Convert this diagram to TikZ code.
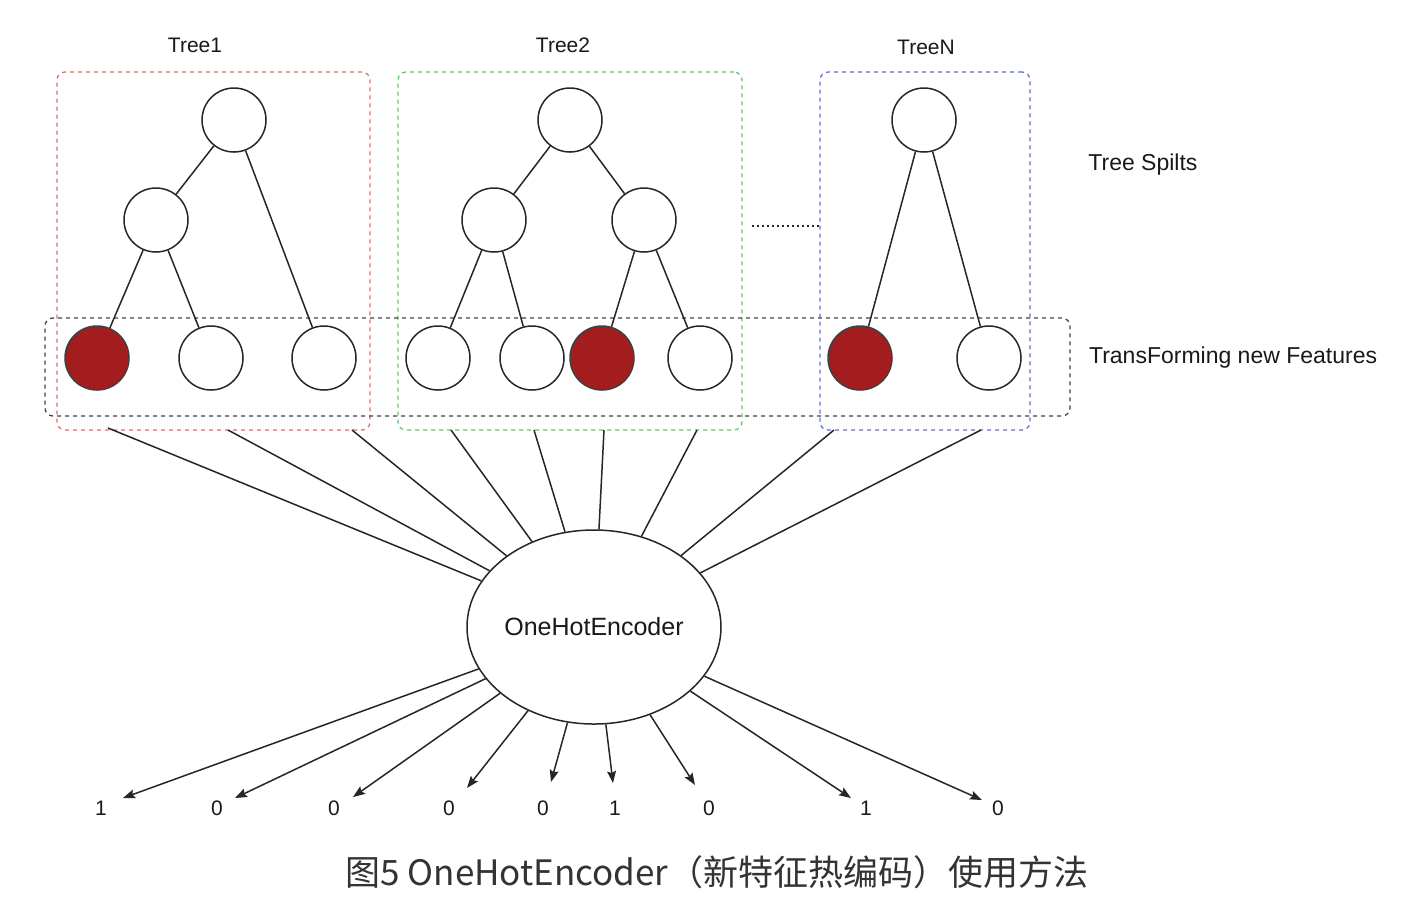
\documentclass[tikz,border=0pt]{standalone}
\usepackage{fontspec}
\setmainfont{Liberation Sans}
\newfontfamily\cjk{Noto Sans CJK SC}
\usepackage{tikz}
\usetikzlibrary{positioning}
\usetikzlibrary{arrows.meta}
\usetikzlibrary{shapes.geometric}
\usetikzlibrary{fit}
\definecolor{hotred}{RGB}{163,28,30}
\definecolor{boxred}{RGB}{230,105,105}
\definecolor{boxgreen}{RGB}{95,200,110}
\definecolor{boxblue}{RGB}{95,112,212}
\tikzset{
	splitnode/.style={circle, draw=black!85, line width=0.75pt, fill=white, minimum size=32pt, inner sep=0pt},
	hotnode/.style={splitnode, fill=hotred, draw=black!75},
	treebox/.style={draw=#1, dash pattern=on 2pt off 2pt, rounded corners=4pt, inner sep=0pt, line width=0.65pt},
	tagtext/.style={inner sep=0pt, text=black!90, font=\fontsize{10.5}{12}\selectfont},
	sidetext/.style={inner sep=0pt, text=black!90, font=\fontsize{11.5}{13}\selectfont},
	digit/.style={inner sep=0pt, text=black!90, font=\fontsize{10.5}{12}\selectfont}
}

\begin{document}
\begin{tikzpicture}[x=0.5pt, y=-0.5pt]
			\useasboundingbox (0,0) rectangle (1418,918);
			\node (Box1)[treebox=boxred, fit={(57,72) (370,430)}]{};
			\node (Box2)[treebox=boxgreen, fit={(398,72) (742,430)}]{};
			\node (BoxN)[treebox=boxblue, fit={(820,72) (1030,430)}]{};
			\node (Features)[treebox=black!75, fit={(45,318) (1070,416)}]{};
			\node (Title1)[tagtext] at (195,45) {Tree1};
			\node (Title2)[tagtext] at (563,45) {Tree2};
			\node (TitleN)[tagtext] at (926,47) {TreeN};
			\node (Transform)[sidetext, right=9pt of Features.east, yshift=4.5pt]{TransForming new Features};
			\node (Splits)[sidetext, anchor=west] at (1088,165) {Tree Spilts};
			\node (Root1)[splitnode] at (234,120) {};
			\node (Mid1)[splitnode] at (156,220) {};
			\node (Leaf11)[hotnode] at (97,358) {};
			\node (Leaf12)[splitnode] at (211,358) {};
			\node (Leaf13)[splitnode] at (324,358) {};
			\node (Root2)[splitnode] at (570,120) {};
			\node (MidA2)[splitnode] at (494,220) {};
			\node (MidB2)[splitnode] at (644,220) {};
			\node (Leaf21)[splitnode] at (438,358) {};
			\node (Leaf22)[splitnode] at (532,358) {};
			\node (Leaf23)[hotnode] at (602,358) {};
			\node (Leaf24)[splitnode] at (700,358) {};
			\node (RootN)[splitnode] at (924,120) {};
			\node (LeafN1)[hotnode] at (860,358) {};
			\node (LeafN2)[splitnode] at (989,358) {};
			\draw[line width=0.75pt, black!85] (Root1) to (Mid1);
			\draw[line width=0.75pt, black!85] (Root1) to (Leaf13);
			\draw[line width=0.75pt, black!85] (Mid1) to (Leaf11);
			\draw[line width=0.75pt, black!85] (Mid1) to (Leaf12);
			\draw[line width=0.75pt, black!85] (Root2) to (MidA2);
			\draw[line width=0.75pt, black!85] (Root2) to (MidB2);
			\draw[line width=0.75pt, black!85] (MidA2) to (Leaf21);
			\draw[line width=0.75pt, black!85] (MidA2) to (Leaf22);
			\draw[line width=0.75pt, black!85] (MidB2) to (Leaf23);
			\draw[line width=0.75pt, black!85] (MidB2) to (Leaf24);
			\draw[line width=0.75pt, black!85] (RootN) to (LeafN1);
			\draw[line width=0.75pt, black!85] (RootN) to (LeafN2);
			\coordinate (Dots) at (752,226);
			\draw[line width=1pt, dash pattern=on 1pt off 1.5pt, black!85] (Dots) to (Dots -| BoxN.west);
			\node (Encoder)[ellipse, draw=black!85, line width=0.75pt, fill=white, minimum width=127pt, minimum height=97pt, inner sep=0pt, text=black!90, font=\fontsize{12.5}{14}\selectfont] at (594,627) {OneHotEncoder};
			\coordinate (Up1) at (108,428);
			\coordinate (Up2) at (228,430);
			\coordinate (Up3) at (352,430);
			\coordinate (Up4) at (451,430);
			\coordinate (Up5) at (534,430);
			\coordinate (Up6) at (604,430);
			\coordinate (Up7) at (697,430);
			\coordinate (Up8) at (834,430);
			\coordinate (Up9) at (981,430);
			\draw[line width=0.75pt, black!85] (Up1) to (Encoder);
			\draw[line width=0.75pt, black!85] (Up2) to (Encoder);
			\draw[line width=0.75pt, black!85] (Up3) to (Encoder);
			\draw[line width=0.75pt, black!85] (Up4) to (Encoder);
			\draw[line width=0.75pt, black!85] (Up5) to (Encoder);
			\draw[line width=0.75pt, black!85] (Up6) to (Encoder);
			\draw[line width=0.75pt, black!85] (Up7) to (Encoder);
			\draw[line width=0.75pt, black!85] (Up8) to (Encoder);
			\draw[line width=0.75pt, black!85] (Up9) to (Encoder);
			\coordinate (Tip1) at (123,798);
			\coordinate (Tip2) at (235,798);
			\coordinate (Tip3) at (353,797);
			\coordinate (Tip4) at (467,788);
			\coordinate (Tip5) at (551,782);
			\coordinate (Tip6) at (613,783);
			\coordinate (Tip7) at (695,785);
			\coordinate (Tip8) at (851,798);
			\coordinate (Tip9) at (982,800);
			\draw[-{Stealth[length=6pt,width=4.5pt,inset=1pt]}, line width=0.75pt, black!85] (Encoder) to (Tip1);
			\draw[-{Stealth[length=6pt,width=4.5pt,inset=1pt]}, line width=0.75pt, black!85] (Encoder) to (Tip2);
			\draw[-{Stealth[length=6pt,width=4.5pt,inset=1pt]}, line width=0.75pt, black!85] (Encoder) to (Tip3);
			\draw[-{Stealth[length=6pt,width=4.5pt,inset=1pt]}, line width=0.75pt, black!85] (Encoder) to (Tip4);
			\draw[-{Stealth[length=6pt,width=4.5pt,inset=1pt]}, line width=0.75pt, black!85] (Encoder) to (Tip5);
			\draw[-{Stealth[length=6pt,width=4.5pt,inset=1pt]}, line width=0.75pt, black!85] (Encoder) to (Tip6);
			\draw[-{Stealth[length=6pt,width=4.5pt,inset=1pt]}, line width=0.75pt, black!85] (Encoder) to (Tip7);
			\draw[-{Stealth[length=6pt,width=4.5pt,inset=1pt]}, line width=0.75pt, black!85] (Encoder) to (Tip8);
			\draw[-{Stealth[length=6pt,width=4.5pt,inset=1pt]}, line width=0.75pt, black!85] (Encoder) to (Tip9);
			\node (Out1)[digit] at (101,808) {1};
			\node (Out2)[digit] at (217,808) {0};
			\node (Out3)[digit] at (334,808) {0};
			\node (Out4)[digit] at (449,808) {0};
			\node (Out5)[digit] at (543,808) {0};
			\node (Out6)[digit] at (615,808) {1};
			\node (Out7)[digit] at (709,808) {0};
			\node (Out8)[digit] at (866,808) {1};
			\node (Out9)[digit] at (998,808) {0};
			\node (Caption)[inner sep=0pt, text=black!80, font=\cjk\fontsize{17.5}{21}\selectfont] at (717,872) {图5 OneHotEncoder（新特征热编码）使用方法};
		\end{tikzpicture}
\end{document}
